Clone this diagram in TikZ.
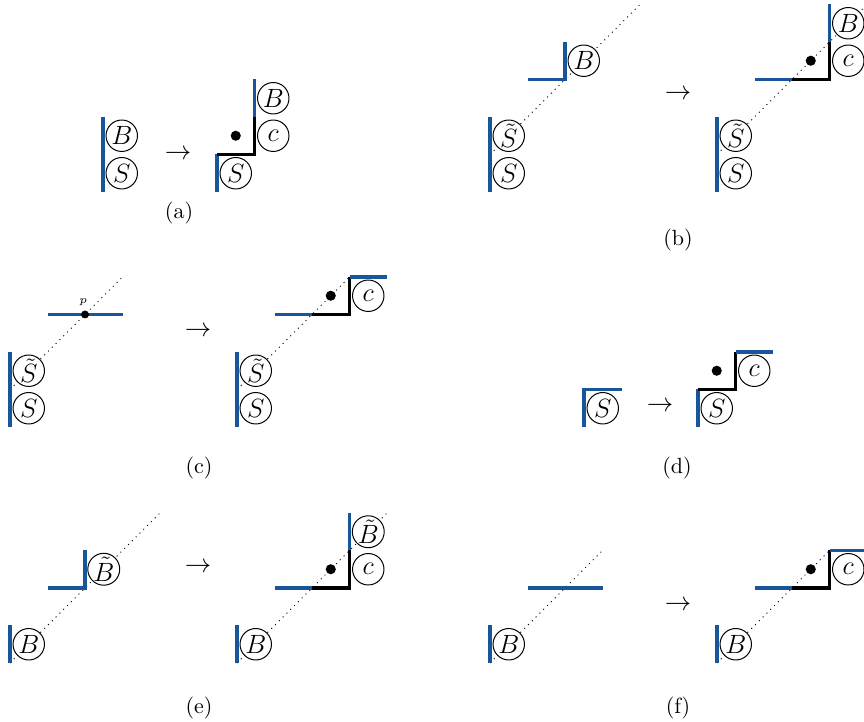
\documentclass[tikz,border=0pt]{standalone}
\definecolor{lineblue}{RGB}{25,85,155}
\begin{document}
\begin{tikzpicture}[x=0.4545pt,y=-0.4545pt,
  blueline/.style={draw=lineblue, line width=1.4pt},
  blackline/.style={draw=black, line width=1.4pt},
  diag/.style={draw, dotted, line width=0.45pt},
  cell/.style={circle, draw, fill=white, line width=0.45pt, minimum size=14.3pt, inner sep=0pt, font=\large},
  dotmark/.style={circle, fill=black, minimum size=4.6pt, inner sep=0pt},
  pdot/.style={circle, fill=black, minimum size=3.6pt, inner sep=0pt},
  cellunit/.style={x=17.045pt, y=17.045pt},
  arrow/.style={inner sep=0pt, font=\large},
  lbl/.style={inner sep=0pt}]
\useasboundingbox (0,0) rectangle (864,722);

% ---------- (a) ----------
\begin{scope}[shift={(103,192)}, cellunit]
  \draw[blueline] (0,0) -- (0,2);
  \node[cell] (aB) at (0.5,1.5) {$B$};
  \node[cell] (aS) at (0.5,0.5) {$S$};
\end{scope}
\node[arrow] (arra) at (178,155) {$\rightarrow$};
\begin{scope}[shift={(217,192)}, cellunit]
  \draw[blueline] (0,0) -- (0,1);
  \draw[blackline] (0,1) -- (1,1) -- (1,2);
  \draw[blueline] (1,2) -- (1,3);
  \node[cell] (aS2) at (0.5,0.5) {$S$};
  \node[cell] (ac2) at (1.5,1.5) {$c$};
  \node[cell] (aB2) at (1.5,2.5) {$B$};
  \node[dotmark] (ad2) at (0.5,1.5) {};
\end{scope}
\node[lbl] (la) at (179,213) {(a)};

% ---------- (b) ----------
\begin{scope}[shift={(490,192)}, cellunit]
  \draw[diag] (0,1) -- (4,5);
  \draw[blueline] (0,0) -- (0,2);
  \draw[blueline] (1,3) -- (2,3) -- (2,4);
  \node[cell] (bSt) at (0.5,1.5) {$\tilde S$};
  \node[cell] (bS) at (0.5,0.5) {$S$};
  \node[cell] (bB) at (2.5,3.5) {$B$};
\end{scope}
\node[arrow] (arrb) at (678,95) {$\rightarrow$};
\begin{scope}[shift={(717,192)}, cellunit]
  \draw[diag] (0,1) -- (4,5);
  \draw[blueline] (0,0) -- (0,2);
  \draw[blueline] (1,3) -- (2,3);
  \draw[blackline] (2,3) -- (3,3) -- (3,4);
  \draw[blueline] (3,4) -- (3,5);
  \node[cell] (bSt2) at (0.5,1.5) {$\tilde S$};
  \node[cell] (bS2) at (0.5,0.5) {$S$};
  \node[cell] (bc2) at (3.5,3.5) {$c$};
  \node[cell] (bB2) at (3.5,4.5) {$B$};
  \node[dotmark] (bd2) at (2.5,3.5) {};
\end{scope}
\node[lbl] (lb) at (678,240) {(b)};

% ---------- (c) ----------
\begin{scope}[shift={(10,427)}, cellunit]
  \draw[diag] (0,1) -- (3,4);
  \draw[blueline] (0,0) -- (0,2);
  \draw[blueline] (1,3) -- (3,3);
  \node[cell] (cSt) at (0.5,1.5) {$\tilde S$};
  \node[cell] (cS) at (0.5,0.5) {$S$};
  \node[pdot] (cp) at (2,3) {};
  \node[lbl, font=\tiny] (cpl) at (1.95,3.33) {$p$};
\end{scope}
\node[arrow] (arrc) at (198,332) {$\rightarrow$};
\begin{scope}[shift={(237,427)}, cellunit]
  \draw[diag] (0,1) -- (3,4);
  \draw[blueline] (0,0) -- (0,2);
  \draw[blueline] (1,3) -- (2,3);
  \draw[blackline] (2,3) -- (3,3) -- (3,4);
  \draw[blueline] (3,4) -- (4,4);
  \node[cell] (cSt2) at (0.5,1.5) {$\tilde S$};
  \node[cell] (cS2) at (0.5,0.5) {$S$};
  \node[cell] (cc2) at (3.5,3.5) {$c$};
  \node[dotmark] (cd2) at (2.5,3.5) {};
\end{scope}
\node[lbl] (lc) at (199,468) {(c)};

% ---------- (d) ----------
\begin{scope}[shift={(584,427)}, cellunit]
  \draw[blueline] (0,0) -- (0,1) -- (1,1);
  \node[cell] (dS) at (0.5,0.5) {$S$};
\end{scope}
\node[arrow] (arrd) at (660,407) {$\rightarrow$};
\begin{scope}[shift={(698,427)}, cellunit]
  \draw[blueline] (0,0) -- (0,1);
  \draw[blackline] (0,1) -- (1,1) -- (1,2);
  \draw[blueline] (1,2) -- (2,2);
  \node[cell] (dS2) at (0.5,0.5) {$S$};
  \node[cell] (dc2) at (1.5,1.5) {$c$};
  \node[dotmark] (dd2) at (0.5,1.5) {};
\end{scope}
\node[lbl] (ld) at (677,468) {(d)};

% ---------- (e) ----------
\begin{scope}[shift={(10,663)}, cellunit]
  \draw[diag] (0,0) -- (4,4);
  \draw[blueline] (0,0) -- (0,1);
  \draw[blueline] (1,2) -- (2,2) -- (2,3);
  \node[cell] (eB) at (0.5,0.5) {$B$};
  \node[cell] (eBt) at (2.5,2.5) {$\tilde B$};
\end{scope}
\node[arrow] (arre) at (198,568) {$\rightarrow$};
\begin{scope}[shift={(237,663)}, cellunit]
  \draw[diag] (0,0) -- (4,4);
  \draw[blueline] (0,0) -- (0,1);
  \draw[blueline] (1,2) -- (2,2);
  \draw[blackline] (2,2) -- (3,2) -- (3,3);
  \draw[blueline] (3,3) -- (3,4);
  \node[cell] (eB2) at (0.5,0.5) {$B$};
  \node[cell] (ec2) at (3.5,2.5) {$c$};
  \node[cell] (eBt2) at (3.5,3.5) {$\tilde B$};
  \node[dotmark] (ed2) at (2.5,2.5) {};
\end{scope}
\node[lbl] (le) at (199,708) {(e)};

% ---------- (f) ----------
\begin{scope}[shift={(490,663)}, cellunit]
  \draw[diag] (0,0) -- (3,3);
  \draw[blueline] (0,0) -- (0,1);
  \draw[blueline] (1,2) -- (3,2);
  \node[cell] (fB) at (0.5,0.5) {$B$};
\end{scope}
\node[arrow] (arrf) at (678,606) {$\rightarrow$};
\begin{scope}[shift={(717,663)}, cellunit]
  \draw[diag] (0,0) -- (3,3);
  \draw[blueline] (0,0) -- (0,1);
  \draw[blueline] (1,2) -- (2,2);
  \draw[blackline] (2,2) -- (3,2) -- (3,3);
  \draw[blueline] (3,3) -- (4,3);
  \node[cell] (fB2) at (0.5,0.5) {$B$};
  \node[cell] (fc2) at (3.5,2.5) {$c$};
  \node[dotmark] (fd2) at (2.5,2.5) {};
\end{scope}
\node[lbl] (lf) at (678,708) {(f)};
\end{tikzpicture}
\end{document}
